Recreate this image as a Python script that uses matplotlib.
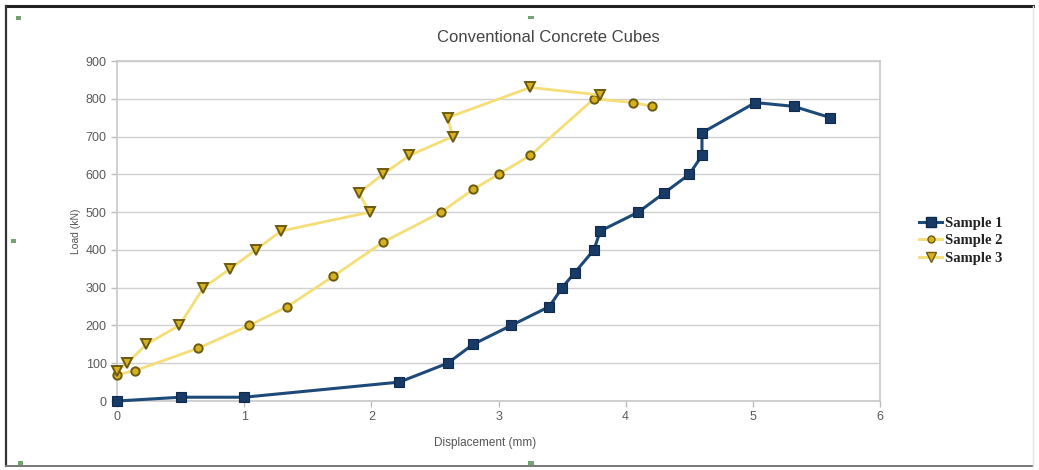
import matplotlib
matplotlib.use("Agg")
import matplotlib.pyplot as plt
from matplotlib.lines import Line2D
from matplotlib.patches import Rectangle

# Load-displacement readings for three conventional concrete cubes
s1_disp = [0, 0.5, 1.0, 2.22, 2.6, 2.8, 3.1, 3.4, 3.5, 3.6, 3.75, 3.8, 4.1, 4.3, 4.5, 4.6, 4.6, 5.02, 5.32, 5.61]
s1_load = [0, 10, 10, 50, 100, 150, 200, 250, 300, 340, 400, 450, 500, 550, 600, 650, 710, 790, 780, 750]

s2_disp = [0, 0.14, 0.64, 1.04, 1.34, 1.7, 2.09, 2.55, 2.8, 3.0, 3.25, 3.75, 4.06, 4.21]
s2_load = [70, 80, 140, 200, 250, 330, 420, 500, 560, 600, 650, 800, 790, 780]

s3_disp = [0, 0.08, 0.23, 0.49, 0.68, 0.89, 1.09, 1.29, 1.99, 1.9, 2.09, 2.3, 2.64, 2.6, 3.25, 3.8]
s3_load = [80, 100, 150, 200, 300, 350, 400, 450, 500, 550, 600, 650, 700, 750, 830, 810]

series_names = ["Sample 1", "Sample 2", "Sample 3"]
x_ticks = [0, 1, 2, 3, 4, 5, 6]
y_ticks = [0, 100, 200, 300, 400, 500, 600, 700, 800, 900]

navy_line = "#1d4a78"
navy_mark = "#173a66"
yellow_line = "#f3de78"
gold_face = "#d8b21c"
olive_edge = "#6b5a10"

fig = plt.figure(figsize=(10.39, 4.70), dpi=100)
fig.patch.set_facecolor("white")

# outer frame of the chart object
fig.add_artist(Line2D([0.006, 0.994], [0.988, 0.988], color="#222222", lw=2.2, transform=fig.transFigure))
fig.add_artist(Line2D([0.006, 0.006], [0.008, 0.988], color="#333333", lw=1.6, transform=fig.transFigure))
fig.add_artist(Line2D([0.006, 0.994], [0.008, 0.008], color="#777777", lw=1.4, transform=fig.transFigure))
fig.add_artist(Line2D([0.9945, 0.9945], [0.008, 0.988], color="#e4e4e4", lw=1.0, transform=fig.transFigure))

ax = fig.add_axes([0.1126, 0.1468, 0.7344, 0.7234])
ax.set_xlim(0, 6)
ax.set_ylim(0, 900)
ax.set_xticks(x_ticks)
ax.set_yticks(y_ticks)
ax.grid(axis="y", color="#d0d0d0", lw=1.0)
ax.set_axisbelow(True)
for side in ["top", "right", "left", "bottom"]:
    ax.spines[side].set_color("#c8c8c8")
    ax.spines[side].set_linewidth(1.2)
ax.tick_params(axis="both", colors="#bdbdbd", labelcolor="#5a5a5a", labelsize=9, length=4, width=1)
for lbl in ax.get_xticklabels() + ax.get_yticklabels():
    lbl.set_fontfamily("Liberation Sans")

ax.plot(s2_disp, s2_load, color=yellow_line, lw=2.0, marker="o", ms=6,
        mfc=gold_face, mec=olive_edge, mew=1.4, label=series_names[1], zorder=3, clip_on=False)
ax.plot(s3_disp, s3_load, color=yellow_line, lw=2.0, marker="v", ms=7.5,
        mfc=gold_face, mec=olive_edge, mew=1.4, label=series_names[2], zorder=3, clip_on=False)
ax.plot(s1_disp, s1_load, color=navy_line, lw=2.2, marker="s", ms=7.5,
        mfc=navy_mark, mec="#0f2a4d", mew=0.8, label=series_names[0], zorder=4, clip_on=False)

fig.text(0.528, 0.921, "Conventional Concrete Cubes", ha="center", va="center",
         fontsize=12, color="#444444", family="Liberation Sans")
ax.set_xlabel("Displacement (mm)", fontsize=8.5, color="#555555", family="Liberation Sans")
ax.xaxis.set_label_coords(0.482, -0.105)
ax.set_ylabel("Load (kN)", fontsize=7.5, color="#555555", family="Liberation Sans")
ax.yaxis.set_label_coords(-0.047, 0.5)

handles = [
    Line2D([], [], color=navy_line, lw=2.2, marker="s", ms=7, mfc=navy_mark, mec="#0f2a4d"),
    Line2D([], [], color=yellow_line, lw=2.0, marker="o", ms=5, mfc=gold_face, mec=olive_edge),
    Line2D([], [], color=yellow_line, lw=2.0, marker="v", ms=6.5, mfc=gold_face, mec=olive_edge),
]
leg = fig.legend(handles, series_names, loc="center left", bbox_to_anchor=(0.872, 0.488),
                 frameon=False, handlelength=1.6, handletextpad=0.15, labelspacing=0.3,
                 prop={"family": "Liberation Serif", "weight": "bold", "size": 10.5})
for t in leg.get_texts():
    t.set_color("#222222")

# small selection handles around the chart object
for (hx, hy) in [(0.018, 0.962), (0.511, 0.963), (0.013, 0.487), (0.511, 0.015), (0.02, 0.015)]:
    fig.add_artist(Rectangle((hx - 0.0025, hy - 0.004), 0.005, 0.008, transform=fig.transFigure,
                             facecolor="#3a7a3a", edgecolor="none", alpha=0.7))

fig.savefig("out.png", dpi=100)
